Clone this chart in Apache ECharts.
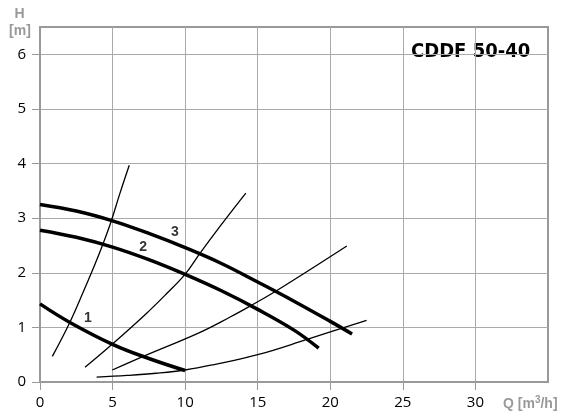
<!DOCTYPE html>
<html>
<head>
<meta charset="utf-8">
<script src="https://cdn.jsdelivr.net/npm/echarts@6/dist/echarts.min.js"></script>
<style>
  html, body { margin: 0; padding: 0; background: #fff; }
  #chart { width: 566px; height: 419px; }
</style>
</head>
<body>
<div id="chart"></div>
<script>
// 刻度
var xTicks = [0, 5, 10, 15, 20, 25, 30];
var yTicks = [0, 1, 2, 3, 4, 5, 6];

// 泵曲线 (Q, H)
var pump1 = [[0, 1.43], [2, 1.10], [5, 0.69], [7.5, 0.43], [10, 0.21]];
var pump2 = [[0, 2.78], [2.5, 2.65], [5, 2.47], [7.5, 2.24], [10, 1.97], [12.5, 1.67], [15, 1.33], [17.5, 0.95], [19.2, 0.62]];
var pump3 = [[0, 3.25], [2.5, 3.13], [5, 2.95], [7.5, 2.72], [10, 2.46], [12.5, 2.17], [15, 1.83], [17.5, 1.48], [20, 1.11], [21.5, 0.88]];

// 管路曲线
var sysA = [[0.85, 0.47], [2.07, 1.1], [3.0, 1.66], [3.7, 2.1], [4.3, 2.5], [4.9, 2.94], [5.5, 3.45], [6.15, 3.97]];
var sysB = [[3.1, 0.27], [5.05, 0.71], [7.35, 1.26], [8.73, 1.62], [9.99, 1.97], [11.03, 2.36], [12.4, 2.85], [14.18, 3.46]];
var sysC = [[4.98, 0.22], [7.12, 0.47], [11.03, 0.91], [13.1, 1.19], [14.47, 1.39], [16.35, 1.68], [21.14, 2.49]];
var sysD = [[3.9, 0.09], [6, 0.12], [8, 0.16], [10, 0.22], [12, 0.32], [15, 0.5], [18.4, 0.78], [22.5, 1.13]];

// 曲线编号
var curveLabels = [[3.3, 1.17, '1'], [7.1, 2.47, '2'], [9.3, 2.74, '3']];

var gray = '#999';
var tickFont = '"Open Sans", sans-serif';

var myChart = echarts.init(document.getElementById('chart'));

function thick(data) {
    return { type: 'line', data: data, smooth: 0.4, symbol: 'none', silent: true,
        lineStyle: { color: '#000', width: 3.5 } };
}
function thin(data) {
    return { type: 'line', data: data, smooth: 0.4, symbol: 'none', silent: true,
        lineStyle: { color: '#000', width: 1.3 } };
}

var option = {
    animation: false,
    grid: { left: 40, right: 18, top: 27, bottom: 37, show: true, borderColor: gray, borderWidth: 2 },
    xAxis: {
        type: 'value', min: 0, max: 35, interval: 2.5,
        axisLine: { lineStyle: { color: gray, width: 2 } },
        axisTick: { customValues: xTicks, length: 8, lineStyle: { color: gray, width: 1 } },
        axisLabel: { customValues: xTicks, color: '#000', fontSize: 15, fontFamily: tickFont, margin: 13 },
        splitLine: { show: true, lineStyle: { color: '#aaa', width: 1 } }
    },
    yAxis: {
        type: 'value', min: 0, max: 6.5, interval: 0.5,
        axisLine: { lineStyle: { color: gray, width: 2 } },
        axisTick: { customValues: yTicks, length: 8, lineStyle: { color: gray, width: 1 } },
        axisLabel: { customValues: yTicks, color: '#000', fontSize: 15, fontFamily: tickFont, margin: 14 },
        splitLine: { show: true, lineStyle: { color: '#aaa', width: 1 } }
    },
    graphic: [
        { type: 'text', left: 411, top: 42,
          style: { text: 'CDDF 50-40', fill: '#000', font: 'bold 20px "DejaVu Sans Condensed", "DejaVu Sans", sans-serif' } },
        { type: 'text', x: 19.5, y: 14,
          style: { text: 'H', fill: gray, align: 'center', verticalAlign: 'middle', font: 'bold 14px "Liberation Sans", sans-serif' } },
        { type: 'text', x: 20, y: 31,
          style: { text: '[m]', fill: gray, align: 'center', verticalAlign: 'middle', font: 'bold 14px "Liberation Sans", sans-serif' } },
        { type: 'text', x: 503, y: 404,
          style: { text: 'Q [m{s|3}/h]', fill: gray, verticalAlign: 'middle', font: 'bold 14px "Liberation Sans", sans-serif',
            rich: { s: { fontSize: 10, fontWeight: 'bold', fill: gray, fontFamily: '"Liberation Sans", sans-serif', padding: [0, 0, 7, 0] } } } }
    ],
    series: [
        thick(pump1), thick(pump2), thick(pump3),
        thin(sysA), thin(sysB), thin(sysC), thin(sysD),
        {
            type: 'scatter', data: curveLabels, symbolSize: 0, silent: true,
            label: { show: true, position: 'inside', formatter: function (p) { return p.data[2]; },
                color: '#000', fontSize: 14, fontWeight: 'bold', fontFamily: '"Liberation Sans", sans-serif' }
        }
    ]
};
myChart.setOption(option);
</script>
</body>
</html>
